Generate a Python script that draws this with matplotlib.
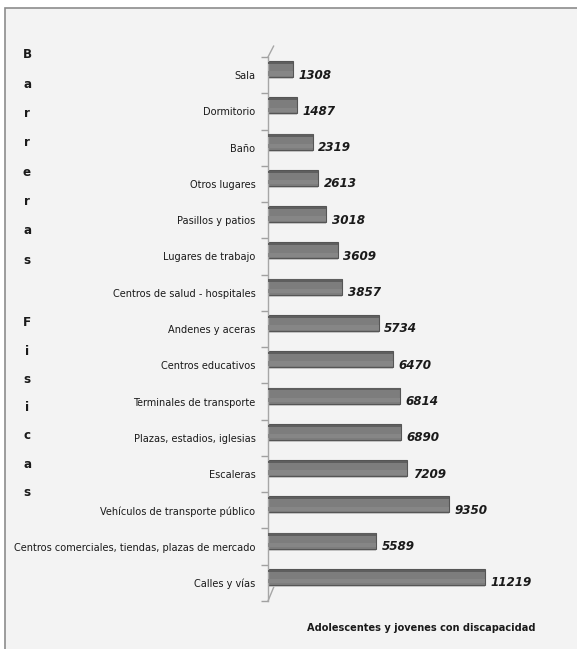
import numpy as np
import matplotlib
matplotlib.use('Agg')
import matplotlib.pyplot as plt
from matplotlib.patches import Rectangle

# data, bottom to top as drawn
categories = ['Calles y vías',
              'Centros comerciales, tiendas, plazas de mercado',
              'Vehículos de transporte público',
              'Escaleras',
              'Plazas, estadios, iglesias',
              'Terminales de transporte',
              'Centros educativos',
              'Andenes y aceras',
              'Centros de salud - hospitales',
              'Lugares de trabajo',
              'Pasillos y patios',
              'Otros lugares',
              'Baño',
              'Dormitorio',
              'Sala']
values = [11219, 5589, 9350, 7209, 6890, 6814, 6470, 5734, 3857, 3609, 3018, 2613, 2319, 1487, 1308]

side_title = 'Barreras Fisicas'
x_title = 'Adolescentes y jovenes con discapacidad'

plt.rcParams['font.family'] = ['Liberation Sans Narrow', 'DejaVu Sans']
plt.rcParams['font.stretch'] = 'condensed'

W, H = 577, 649
fig = plt.figure(figsize=(W / 100, H / 100), dpi=100, facecolor='white')

# chart area background + border
fig.patches.append(Rectangle((5 / W, -0.01), 1.02, 1 - 8 / H + 0.01, transform=fig.transFigure,
                             facecolor='#f3f3f3', edgecolor='#8c8c8c', linewidth=1.2, zorder=-5))

ax = fig.add_axes([268 / W, 1 - 601 / H, 280 / W, (601 - 57) / H])
ax.set_zorder(2)
ax.set_facecolor('none')

pos = np.arange(len(categories))
dy = 6 / 36.3  # bars look lifted by the 3d effect
ax.barh(pos + dy - 0.25, values, height=0.05, color='#c8c8c8', linewidth=0, zorder=1)
ax.barh(pos + dy, values, height=0.44, color='#7d7d7d', edgecolor='#555555', linewidth=0.8, zorder=2)
ax.barh(pos + dy + 0.17, values, height=0.06, color='#5e5e5e', linewidth=0, zorder=3)
ax.barh(pos + dy - 0.12, values, height=0.12, color='#868686', linewidth=0, zorder=3)

for p, v in zip(pos, values):
    ax.annotate(str(v), (v, p), xytext=(4, 0), textcoords='offset points',
                ha='left', va='center', fontsize=9.5, fontweight='bold', fontstyle='italic',
                color='#1a1a1a')

ax.set_xlim(0, 14500)
ax.set_ylim(-0.5, len(categories) - 0.5)

ax.set_yticks(pos)
ax.set_yticklabels(categories, fontsize=7.8, color='#1a1a1a')
ax.set_yticks(np.arange(len(categories) + 1) - 0.5, minor=True)
ax.tick_params(axis='y', which='major', length=0, pad=9)
ax.tick_params(axis='y', which='minor', length=5, color='#a0a0a0', width=1)
ax.set_xticks([])

for s in ['top', 'right', 'bottom']:
    ax.spines[s].set_visible(False)
ax.spines['left'].set_color('#a6a6a6')
ax.spines['left'].set_linewidth(1)

# 3d wall corners
ax.plot([0, 0.02], [1, 1.02], transform=ax.transAxes, color='#a6a6a6', lw=1, clip_on=False)
ax.plot([0, 0.02], [0, 0.025], transform=ax.transAxes, color='#a6a6a6', lw=1, clip_on=False)

# side title, one letter per line
words = side_title.split()
y0 = 1 - 55 / H
for k, ch in enumerate(words[0]):
    fig.text(27 / W, y0 - k * 29.3 / H, ch, ha='center', va='center',
             fontsize=9.5, fontweight='bold', color='#1a1a1a')
y1 = 1 - 323 / H
for k, ch in enumerate(words[1]):
    fig.text(27 / W, y1 - k * 28.2 / H, ch, ha='center', va='center',
             fontsize=9.5, fontweight='bold', color='#1a1a1a')

fig.text(421 / W, 1 - 628 / H, x_title, ha='center', va='center',
         fontsize=7.8, fontweight='bold', color='#1a1a1a')

fig.savefig('out.png', dpi=100, facecolor=fig.get_facecolor())
